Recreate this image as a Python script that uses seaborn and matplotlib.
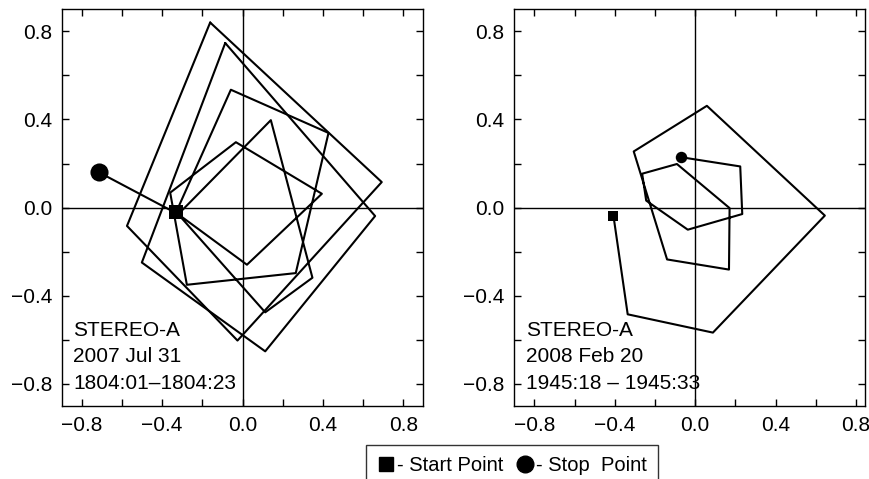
import numpy as np
import pandas as pd
import matplotlib
matplotlib.use("Agg")
import matplotlib.pyplot as plt
import seaborn as sns
from matplotlib.lines import Line2D

# ---------------- data ----------------
# Left panel: STEREO-A 2007 Jul 31 (hodogram traces)
left_inner_x = [-0.33, -0.058, 0.428, 0.265, -0.277, -0.360, -0.033, 0.395, 0.022, -0.32, 0.141, 0.348, 0.113, -0.32, -0.716]
left_inner_y = [-0.02, 0.535, 0.339, -0.297, -0.350, 0.068, 0.297, 0.063, -0.259, -0.03, 0.397, -0.318, -0.475, -0.03, 0.161]
left_outer1_x = [-0.161, 0.693, -0.025, -0.575, -0.161]
left_outer1_y = [0.840, 0.116, -0.603, -0.083, 0.840]
left_outer2_x = [-0.086, 0.660, 0.113, -0.501, -0.086]
left_outer2_y = [0.747, -0.038, -0.652, -0.249, 0.747]
left_start = (-0.33, -0.02)
left_stop = (-0.716, 0.161)

# Right panel: STEREO-A 2008 Feb 20
right_x = [-0.407, -0.336, 0.088, 0.645, 0.058, -0.306, -0.140, 0.168, 0.171, -0.091, -0.264, -0.244, -0.037, 0.234, 0.224, -0.071]
right_y = [-0.036, -0.484, -0.567, -0.036, 0.462, 0.255, -0.235, -0.281, -0.002, 0.198, 0.154, 0.032, -0.100, -0.029, 0.187, 0.229]
right_start = (-0.407, -0.036)
right_stop = (-0.071, 0.229)

tick_values = [-0.8, -0.6, -0.4, -0.2, 0.0, 0.2, 0.4, 0.6, 0.8]
tick_labels = ["\u22120.8", "", "\u22120.4", "", "0.0", "", "0.4", "", "0.8"]

left_text = "STEREO-A\n2007 Jul 31\n1804:01\u20131804:23"
right_text = "STEREO-A\n2008 Feb 20\n1945:18 \u2013 1945:33"
legend_labels = ["- Start Point", "- Stop  Point"]

# ---------------- style ----------------
sns.set_style("ticks")
plt.rcParams["font.family"] = ["Liberation Sans", "DejaVu Sans"]
plt.rcParams["axes.linewidth"] = 1.0
for key in ["text.color", "axes.labelcolor", "xtick.color", "ytick.color", "axes.edgecolor"]:
    plt.rcParams[key] = "black"

fig = plt.figure(figsize=(8.7, 4.79), dpi=100)
ax1 = fig.add_axes([0.0709, 0.1524, 0.4157, 0.8282])
ax2 = fig.add_axes([0.5912, 0.1524, 0.4031, 0.8282])

left_df = pd.concat([
    pd.DataFrame({"x": left_inner_x, "y": left_inner_y, "unit": 0}),
    pd.DataFrame({"x": left_outer1_x, "y": left_outer1_y, "unit": 1}),
    pd.DataFrame({"x": left_outer2_x, "y": left_outer2_y, "unit": 2}),
], ignore_index=True)
right_df = pd.DataFrame({"x": right_x, "y": right_y, "unit": 0})


def style_axis(ax, xlim, ylim):
    ax.axhline(0, color="black", lw=1.0, zorder=1)
    ax.axvline(0, color="black", lw=1.0, zorder=1)
    ax.set_xlim(*xlim)
    ax.set_ylim(*ylim)
    ax.set_xticks(tick_values)
    ax.set_xticklabels(tick_labels)
    ax.set_yticks(tick_values)
    ax.set_yticklabels(tick_labels)
    ax.tick_params(direction="in", length=5, width=1.0, top=True, right=True,
                   labelsize=15, pad=7, colors="black")
    ax.set_xlabel("")
    ax.set_ylabel("")
    for sp in ax.spines.values():
        sp.set_visible(True)
        sp.set_color("black")
        sp.set_linewidth(1.0)


for ax, df, start, stop, txt, xlim, ssq, sci in [
    (ax1, left_df, left_start, left_stop, left_text, (-0.9, 0.9), 110, 170),
    (ax2, right_df, right_start, right_stop, right_text, (-0.9, 0.845), 50, 68),
]:
    sns.lineplot(data=df, x="x", y="y", units="unit", estimator=None, sort=False,
                 color="black", lw=1.5, ax=ax, legend=False, zorder=3)
    sns.scatterplot(x=[start[0]], y=[start[1]], marker="s", s=ssq, color="black",
                    linewidth=0, ax=ax, zorder=5, legend=False)
    sns.scatterplot(x=[stop[0]], y=[stop[1]], marker="o", s=sci, color="black",
                    linewidth=0, ax=ax, zorder=5, legend=False)
    style_axis(ax, xlim, (-0.9, 0.9))
    ax.text(-0.842, -0.84, txt, fontsize=15, ha="left", va="bottom",
            linespacing=1.5, color="black", zorder=6)

handles = [
    Line2D([], [], marker="s", color="black", linestyle="none", markersize=9.5),
    Line2D([], [], marker="o", color="black", linestyle="none", markersize=12),
]
leg = fig.legend(handles, legend_labels, loc="upper left",
                 bbox_to_anchor=(366.5 / 870, 1 - 445 / 479), ncol=2,
                 frameon=True, fancybox=False, edgecolor="black", fontsize=14.5,
                 handlelength=0.8, handletextpad=0.15, columnspacing=0.7,
                 borderpad=0.55, borderaxespad=0)
leg.get_frame().set_linewidth(1.0)

fig.savefig("out.png", dpi=100)
